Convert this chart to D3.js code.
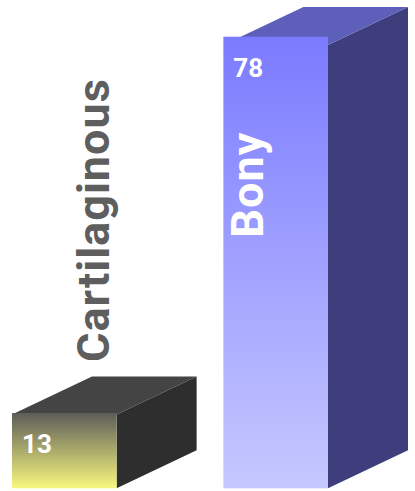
<!DOCTYPE html>
<html>
<head>
<meta charset="utf-8">
<script src="https://cdn.jsdelivr.net/npm/d3@7"></script>
<style>
  html, body { margin: 0; padding: 0; background: #ffffff; }
  svg { display: block; }
</style>
</head>
<body>
<script>
// Fish skeleton types
const categories = ["Cartilaginous", "Bony"];
const values = [13, 78];

// Per-bar colours: front gradient (top -> bottom), top face, side face, name label
const frontTopColors = ["#5d5d59", "#7b7bff"];
const frontBottomColors = ["#f8f87f", "#c6c8ff"];
const topFaceColors = ["#444444", "#5e5fbb"];
const sideFaceColors = ["#2e2e2e", "#3f3e7c"];
const nameColors = ["#5e5e5e", "#ffffff"];

const width = 415, height = 491;
const baseY = 488.3;
const depthX = 80, depthY = -38;

const svg = d3.select("body").append("svg")
  .attr("width", width)
  .attr("height", height);

const x = d3.scaleBand()
  .domain(categories)
  .range([12, 328])
  .paddingInner(0.505)
  .paddingOuter(0);

// Front face height scale, and the slightly shorter extrusion scale
const yFront = d3.scaleLinear().domain([0, d3.max(values)]).range([baseY, 36.7]);
const yBox = d3.scaleLinear().domain([0, d3.max(values)]).range([baseY, 45]);

const data = categories.map((c, i) => ({
  name: c, value: values[i], i
}));

const defs = svg.append("defs");
data.forEach(d => {
  const g = defs.append("linearGradient")
    .attr("id", "front-" + d.i)
    .attr("x1", 0).attr("y1", 0).attr("x2", 0).attr("y2", 1);
  g.append("stop").attr("offset", "0%").attr("stop-color", frontTopColors[d.i]);
  g.append("stop").attr("offset", "100%").attr("stop-color", frontBottomColors[d.i]);
});

const bars = svg.selectAll("g.bar")
  .data(data)
  .join("g")
  .attr("class", "bar");

// Side face
bars.append("path")
  .attr("fill", d => sideFaceColors[d.i])
  .attr("d", d => {
    const x1 = x(d.name) + x.bandwidth();
    const yt = yBox(d.value), yb = yBox(0);
    return `M${x1},${yt}L${x1 + depthX},${yt + depthY}L${x1 + depthX},${yb + depthY}L${x1},${yb}Z`;
  });

// Top face
bars.append("path")
  .attr("fill", d => topFaceColors[d.i])
  .attr("d", d => {
    const x0 = x(d.name), x1 = x0 + x.bandwidth();
    const yt = yBox(d.value);
    return `M${x0},${yt}L${x1},${yt}L${x1 + depthX},${yt + depthY}L${x0 + depthX},${yt + depthY}Z`;
  });

// Front face
bars.append("rect")
  .attr("x", d => x(d.name))
  .attr("y", d => yFront(d.value))
  .attr("width", x.bandwidth())
  .attr("height", d => yFront(0) - yFront(d.value))
  .attr("fill", d => `url(#front-${d.i})`);

// Value labels
bars.append("text")
  .attr("x", d => x(d.name) + 10)
  .attr("y", d => yFront(d.value) + 40)
  .attr("fill", "#ffffff")
  .attr("font-family", "Roboto, sans-serif")
  .attr("font-weight", "bold")
  .attr("font-size", 26)
  .text(d => d.value);

// Category labels: inside tall bars, above short ones
bars.append("text")
  .attr("transform", d => {
    const inside = (yFront(0) - yFront(d.value)) > 300;
    const tx = inside ? x(d.name) + 40 : x(d.name) + 97;
    const ty = inside ? yFront(d.value) + 201 : yFront(d.value) - 51;
    return `translate(${tx},${ty}) rotate(-90)`;
  })
  .attr("fill", d => nameColors[d.i])
  .attr("font-family", "Roboto, sans-serif")
  .attr("font-weight", "bold")
  .attr("font-size", 45)
  .attr("letter-spacing", 1)
  .text(d => d.name);
</script>
</body>
</html>
